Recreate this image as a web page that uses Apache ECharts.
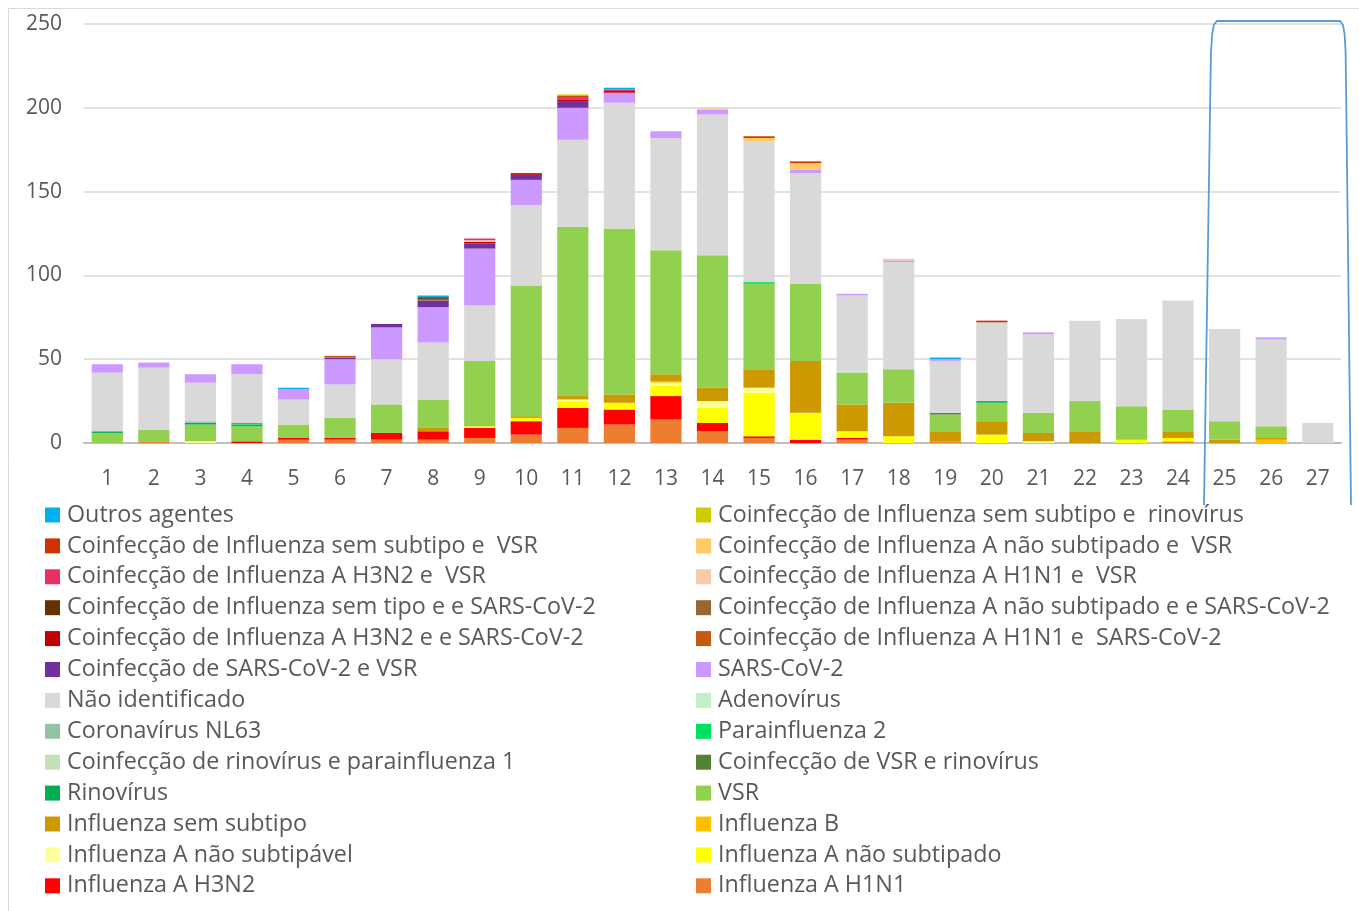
<!DOCTYPE html>
<html>
<head>
<meta charset="utf-8">
<script src="https://cdn.jsdelivr.net/npm/echarts@6/dist/echarts.min.js"></script>
<style>
html,body{margin:0;padding:0;background:#fff;}
#main{width:1359px;height:911px;}
</style>
</head>
<body>
<div id="main"></div>
<script>
// Categories (weeks)
const categories = ['1','2','3','4','5','6','7','8','9','10','11','12','13','14','15','16','17','18','19','20','21','22','23','24','25','26','27'];

// Series values (bottom of stack first)
const influenzaAH1N1          = [0,1,0,0,2,2,2,2,3,5,9,11,14,7,3,0,2,0,1,0,0,0,0,1,0,0,0];
const influenzaAH3N2          = [0,0,0,1,1,1,4,5,6,8,12,9,14,5,1,2,1,0,0,0,0,0,0,0,0,0,0];
const influenzaANaoSubtipado  = [0,0,0,0,0,0,0,0,1,2,4,4,6,9,26,16,4,4,0,5,0,0,2,2,0,0,0];
const influenzaANaoSubtipavel = [0,0,1,0,0,0,0,0,0,0,1,0,2,4,3,0,0,0,0,0,1,0,0,0,0,0,0];
const influenzaB              = [0,0,0,0,0,0,0,0,0,0,0,0,1,0,0,0,0,0,0,0,0,0,0,0,0,2,0];
const influenzaSemSubtipo     = [0,0,0,0,0,0,0,2,0,1,2,5,4,8,11,31,16,20,6,8,5,7,0,4,2,1,0];
const vsr                     = [6,7,10,9,8,12,17,17,39,78,101,99,74,79,51,46,19,20,10,11,12,18,20,13,11,7,0];
const rinovirus               = [1,0,1,1,0,0,0,0,0,0,0,0,0,0,0,0,0,0,0,1,0,0,0,0,0,0,0];
const coinfVsrRino            = [0,0,0,0,0,0,0,0,0,0,0,0,0,0,0,0,0,0,1,0,0,0,0,0,0,0,0];
const coinfRinoParainf1       = [0,0,0,0,0,0,0,0,0,0,0,0,0,0,0,0,0,0,0,0,0,0,0,0,0,0,0];
const parainfluenza2          = [0,0,0,1,0,0,0,0,0,0,0,0,0,0,1,0,0,0,0,0,0,0,0,0,0,0,0];
const coronavirusNL63         = [0,0,1,0,0,0,0,0,0,0,0,0,0,0,0,0,0,0,0,0,0,0,0,0,0,0,0];
const adenovirus              = [0,0,0,0,0,0,0,0,0,0,0,0,0,0,0,0,1,0,0,0,0,0,0,0,0,0,0];
const naoIdentificado         = [35,37,23,29,15,20,27,34,33,48,52,75,67,84,84,66,45,64,31,47,47,48,52,65,55,52,12];
const sarsCov2                = [5,3,5,6,6,15,19,21,34,15,19,6,4,3,0,2,1,1,1,0,1,0,0,0,0,1,0];
const coinfSarsVsr            = [0,0,0,0,0,1,2,4,3,3,4,0,0,0,0,0,0,0,0,0,0,0,0,0,0,0,0];
const coinfH1N1Sars           = [0,0,0,0,0,1,0,0,0,0,0,0,0,0,0,0,0,0,0,0,0,0,0,0,0,0,0];
const coinfH3N2Sars           = [0,0,0,0,0,0,0,0,1,1,1,1,0,0,0,0,0,0,0,0,0,0,0,0,0,0,0];
const coinfANaoSubSars        = [0,0,0,0,0,0,0,1,0,0,0,0,0,0,0,0,0,0,0,0,0,0,0,0,0,0,0];
const coinfSemTipoSars        = [0,0,0,0,0,0,0,1,0,0,0,0,0,0,0,0,0,0,0,0,0,0,0,0,0,0,0];
const coinfH1N1Vsr            = [0,0,0,0,0,0,0,0,1,0,0,0,0,1,0,0,0,1,0,0,0,0,0,0,0,0,0];
const coinfH3N2Vsr            = [0,0,0,0,0,0,0,0,1,0,1,1,0,0,0,0,0,0,0,0,0,0,0,0,0,0,0];
const coinfANaoSubVsr         = [0,0,0,0,0,0,0,0,0,0,0,0,0,0,2,4,0,0,0,0,0,0,0,0,0,0,0];
const coinfSemSubVsr          = [0,0,0,0,0,0,0,0,0,0,1,0,0,0,1,1,0,0,0,1,0,0,0,0,0,0,0];
const coinfSemSubRino         = [0,0,0,0,0,0,0,0,0,0,1,0,0,0,0,0,0,0,0,0,0,0,0,0,0,0,0];
const outrosAgentes           = [0,0,0,0,1,0,0,1,0,0,0,1,0,0,0,0,0,0,1,0,0,0,0,0,0,0,0];

// Y axis ticks
const yMin = 0, yMax = 250, yInterval = 50;

// Series definitions: name, data, color (stack order bottom -> top)
const seriesDefs = [
  ['Influenza A H1N1', influenzaAH1N1, '#ED7D31'],
  ['Influenza A H3N2', influenzaAH3N2, '#FF0000'],
  ['Influenza A não subtipado', influenzaANaoSubtipado, '#FFFF00'],
  ['Influenza A não subtipável', influenzaANaoSubtipavel, '#FFFF99'],
  ['Influenza B', influenzaB, '#FFC000'],
  ['Influenza sem subtipo', influenzaSemSubtipo, '#CC9900'],
  ['VSR', vsr, '#92D050'],
  ['Rinovírus', rinovirus, '#00B050'],
  ['Coinfecção de VSR e rinovírus', coinfVsrRino, '#548235'],
  ['Coinfecção de rinovírus e parainfluenza 1', coinfRinoParainf1, '#C5E0B4'],
  ['Parainfluenza 2', parainfluenza2, '#00E060'],
  ['Coronavírus NL63', coronavirusNL63, '#8FC5A4'],
  ['Adenovírus', adenovirus, '#C3EFC8'],
  ['Não identificado', naoIdentificado, '#D9D9D9'],
  ['SARS-CoV-2', sarsCov2, '#CC99FF'],
  ['Coinfecção de SARS-CoV-2 e VSR', coinfSarsVsr, '#7030A0'],
  ['Coinfecção de Influenza A H1N1 e  SARS-CoV-2', coinfH1N1Sars, '#C55A11'],
  ['Coinfecção de Influenza A H3N2 e e SARS-CoV-2', coinfH3N2Sars, '#C00000'],
  ['Coinfecção de Influenza A não subtipado e e SARS-CoV-2', coinfANaoSubSars, '#996633'],
  ['Coinfecção de Influenza sem tipo e e SARS-CoV-2', coinfSemTipoSars, '#663300'],
  ['Coinfecção de Influenza A H1N1 e  VSR', coinfH1N1Vsr, '#F8CBAD'],
  ['Coinfecção de Influenza A H3N2 e  VSR', coinfH3N2Vsr, '#EA3060'],
  ['Coinfecção de Influenza A não subtipado e  VSR', coinfANaoSubVsr, '#FFC966'],
  ['Coinfecção de Influenza sem subtipo e  VSR', coinfSemSubVsr, '#CC3300'],
  ['Coinfecção de Influenza sem subtipo e  rinovírus', coinfSemSubRino, '#CCCC00'],
  ['Outros agentes', outrosAgentes, '#00B0F0']
];

// Legend reading order (top of stack first), split into two columns
const legendOrder = seriesDefs.map(d => d[0]).slice().reverse();
const legendLeft = legendOrder.filter((_, i) => i % 2 === 0);
const legendRight = legendOrder.filter((_, i) => i % 2 === 1);

const FONT = 'Open Sans';
const TXT = '#595959';

const chart = echarts.init(document.getElementById('main'), null, {renderer: 'canvas'});

const legendCommon = {
  orient: 'vertical',
  top: 503,
  padding: 0,
  itemWidth: 15,
  itemHeight: 15,
  itemGap: 6.9,
  icon: 'rect',
  selectedMode: false,
  textStyle: {fontFamily: FONT, fontSize: 23.3, color: TXT, lineHeight: 24, padding: [0,0,0,2]}
};

chart.setOption({
  animation: false,
  backgroundColor: '#fff',
  textStyle: {fontFamily: FONT},
  grid: {left: 84, right: 18, top: 24, bottom: 468, containLabel: false},
  legend: [
    Object.assign({left: 45, data: legendLeft}, legendCommon),
    Object.assign({left: 696, data: legendRight}, legendCommon)
  ],
  xAxis: {
    type: 'category',
    data: categories,
    axisLine: {lineStyle: {color: '#BFBFBF', width: 2}},
    axisTick: {show: false},
    axisLabel: {fontFamily: FONT, fontSize: 21, color: TXT, margin: 26}
  },
  yAxis: {
    type: 'value',
    min: yMin, max: yMax, interval: yInterval,
    axisLine: {show: false},
    axisTick: {show: false},
    splitLine: {lineStyle: {color: '#D9D9D9', width: 1.5}},
    axisLabel: {fontFamily: FONT, fontSize: 21, color: TXT, margin: 22}
  },
  series: seriesDefs.map(d => ({
    name: d[0],
    type: 'bar',
    stack: 'total',
    data: d[1],
    barCategoryGap: '33%',
    itemStyle: {color: d[2]},
    emphasis: {disabled: true}
  })),
  graphic: [
    {
      type: 'rect',
      shape: {x: 8.5, y: 8.5, width: 1400, height: 1000},
      style: {fill: 'none', stroke: '#D9D9D9', lineWidth: 1},
      silent: true, z: -1
    },
    {
      type: 'polyline',
      shape: {points: [[1204,505],[1210.5,80],[1211,52],[1212.2,34],[1213.8,25],[1217,21],[1340,21],[1343,25],[1344.6,34],[1345.6,52],[1346,80],[1351,505]]},
      style: {fill: null, stroke: '#5B9BD5', lineWidth: 1.8},
      silent: true, z: 100
    }
  ]
});
</script>
</body>
</html>
